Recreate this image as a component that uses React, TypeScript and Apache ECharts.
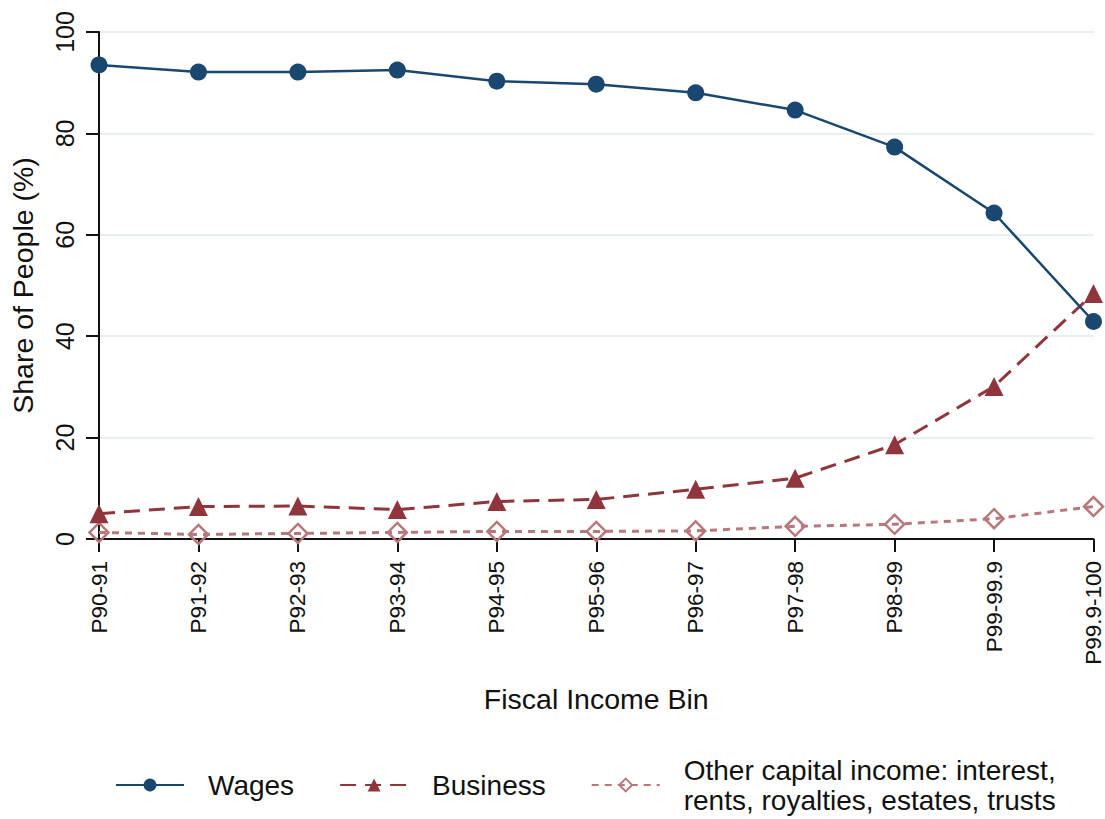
import React, { useEffect, useRef } from "react";
import * as echarts from "echarts";

const categories = [
  "P90-91", "P91-92", "P92-93", "P93-94", "P94-95", "P95-96",
  "P96-97", "P97-98", "P98-99", "P99-99.9", "P99.9-100",
];
const wages = [93.5, 92.1, 92.1, 92.5, 90.3, 89.7, 88.0, 84.6, 77.3, 64.3, 42.9];
const business = [5.0, 6.4, 6.5, 5.8, 7.4, 7.8, 9.8, 12.0, 18.6, 30.1, 48.4];
const otherCapital = [1.3, 0.9, 1.1, 1.3, 1.5, 1.5, 1.6, 2.5, 2.9, 4.0, 6.4];
const yTicks = [0, 20, 40, 60, 80, 100];

const NAVY = "#1a476f";
const MAROON = "#90353b";
const ROSE = "#b8777c";
const FONT = "Liberation Sans, Arial, sans-serif";

export default function App() {
  const ref = useRef<HTMLDivElement>(null);
  useEffect(() => {
    if (!ref.current) return;
    const chart = echarts.init(ref.current, null, { renderer: "svg" });
    chart.setOption({
      animation: false,
      backgroundColor: "#ffffff",
      textStyle: { fontFamily: FONT, color: "#111" },
      grid: { left: 97, right: 11, top: 32, bottom: 280, containLabel: false },
      xAxis: {
        type: "category",
        data: categories,
        boundaryGap: false,
        name: "Fiscal Income Bin",
        nameLocation: "middle",
        nameGap: 145,
        nameTextStyle: { fontSize: 28.5, color: "#111", fontFamily: FONT },
        axisLine: { lineStyle: { color: "#111", width: 2 } },
        axisTick: { show: true, length: 13, lineStyle: { color: "#111", width: 2 }, alignWithLabel: true },
        axisLabel: { rotate: 90, fontSize: 22.5, color: "#111", margin: 22, interval: 0, fontFamily: FONT },
        splitLine: { show: false },
      },
      yAxis: {
        type: "value",
        min: yTicks[0],
        max: yTicks[yTicks.length - 1],
        interval: 20,
        name: "Share of People (%)",
        nameLocation: "middle",
        nameRotate: 90,
        nameGap: 62,
        nameTextStyle: { fontSize: 28.5, color: "#111", fontFamily: FONT },
        axisLine: { show: true, lineStyle: { color: "#111", width: 2 } },
        axisTick: { show: true, length: 13, lineStyle: { color: "#111", width: 2 } },
        axisLabel: { rotate: 90, fontSize: 25, color: "#111", margin: 22, fontFamily: FONT },
        splitLine: { show: true, lineStyle: { color: "#e6f0f1", width: 2 } },
      },
      legend: {
        left: 115,
        top: 755,
        padding: 0,
        itemGap: 45,
        itemWidth: 68,
        itemHeight: 16,
        textStyle: { fontSize: 28, color: "#111", lineHeight: 30, fontFamily: FONT, padding: [0, 0, 0, 19] },
        data: [
          { name: "Wages" },
          { name: "Business" },
          { name: "Other capital income: interest,\nrents, royalties, estates, trusts" },
        ],
      },
      series: [
        {
          name: "Wages",
          type: "line",
          data: wages,
          symbol: "circle",
          symbolSize: 17,
          itemStyle: { color: NAVY },
          lineStyle: { color: NAVY, width: 2.5, type: "solid" },
          z: 3,
        },
        {
          name: "Business",
          type: "line",
          data: business,
          symbol: "triangle",
          symbolSize: 19,
          itemStyle: { color: MAROON },
          lineStyle: { color: MAROON, width: 3, type: [16, 9] },
          z: 2,
        },
        {
          name: "Other capital income: interest,\nrents, royalties, estates, trusts",
          type: "line",
          data: otherCapital,
          symbol: "diamond",
          symbolSize: 19,
          itemStyle: { color: "rgba(0,0,0,0)", borderColor: ROSE, borderWidth: 2.5 },
          lineStyle: { color: ROSE, width: 3, type: [7, 6] },
          z: 1,
        },
      ],
    });
    return () => chart.dispose();
  }, []);
  return (
    <div
      ref={ref}
      style={{ position: "absolute", left: 0, top: 0, width: 1105, height: 819 }}
    />
  );
}
